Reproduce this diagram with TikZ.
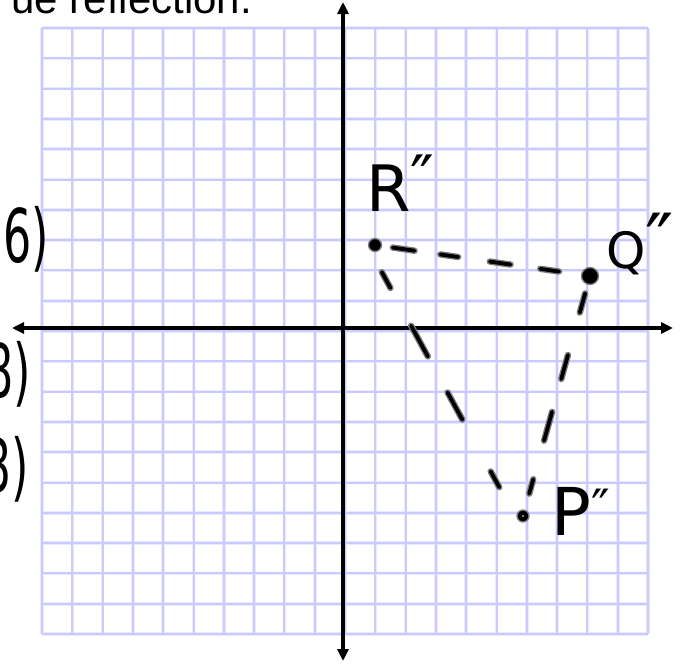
\documentclass[tikz,border=0pt]{standalone}
\usepackage{fontspec}
\setmainfont{Liberation Sans}
\newfontfamily\handfont{DejaVu Sans}
\usetikzlibrary{arrows.meta,calc}
\definecolor{gridc}{RGB}{202,202,255}
\definecolor{gridglow}{RGB}{234,234,255}
\definecolor{haloc}{RGB}{125,125,125}
\tikzset{
  gridline/.style={draw=gridc, line width=2pt},
  gridsoft/.style={draw=gridglow, line width=3.6pt},
  axisline/.style={draw=black, line width=3.2pt, {Triangle[length=12pt,width=11pt]}-{Triangle[length=12pt,width=11pt]}},
  halo/.style={draw=haloc, line width=6.4pt, line cap=round},
  inkcore/.style={draw=black, line width=3.8pt, line cap=round},
  pt/.style={circle, fill=black, draw=haloc, line width=1.3pt, inner sep=0pt, minimum size=#1},
  hand/.style={inner sep=0pt, font=\handfont, text=black},
}
\newcommand\inkpath[2]{\draw[halo,#1] #2; \draw[inkcore,#1] #2;}
\begin{document}
\begin{tikzpicture}[x=1pt,y=-1pt]
\useasboundingbox (0,0) rectangle (689,664);
\clip (0,0) rectangle (689,664);
\fill[white] (0,0) rectangle (689,664);
% graph paper
\foreach \i in {0,...,20}{
  \draw[gridsoft] ({42+30.3*\i},28) -- ({42+30.3*\i},634);
  \draw[gridsoft] (42,{28+30.3*\i}) -- (648,{28+30.3*\i});
}
\foreach \i in {0,...,20}{
  \draw[gridline] ({42+30.3*\i},28) -- ({42+30.3*\i},634);
  \draw[gridline] (42,{28+30.3*\i}) -- (648,{28+30.3*\i});
}
% axes
\coordinate (xl) at (12,328);
\coordinate (xr) at (673,328);
\coordinate (yt) at (343,2);
\coordinate (yb) at (343,661);
\draw[axisline] (xl) -- (xr);
\draw[axisline] (yt) -- (yb);
% points
\node[pt=13pt] (R) at (375,245) {};
\node[pt=17pt] (Q) at (590,276) {};
\node[pt=12pt] (P) at (523,516) {};
% dashed triangle
\inkpath{shorten <=18pt, dash pattern=on 22pt off 26pt on 18pt off 32pt on 21pt off 30pt on 19pt off 300pt}{(R.center) -- (Q.center)}
\inkpath{shorten <=31pt, dash pattern=on 18pt off 43pt on 35pt off 41pt on 31pt off 59pt on 18pt off 300pt}{([xshift=-8pt]R.center) -- ([xshift=-8pt]P.center)}
\inkpath{shorten <=18pt, dash pattern=on 20pt off 44pt on 25pt off 34pt on 30pt off 40pt on 15pt off 300pt}{(Q.center) -- (P.center)}
\fill[white] (P.center) circle (0.9);
% labels
\node[hand, anchor=base west] (Rl) at (366,211) {\fontsize{64}{64}\selectfont R\raisebox{10pt}{″}};
\node[hand, anchor=base west] (Ql) at (606,268) {\fontsize{50}{50}\selectfont Q{\fontsize{76}{76}\selectfont ″}};
\node[hand, anchor=base west] (Pl) at (551,535) {\fontsize{66}{66}\selectfont P{\fontsize{50}{50}\selectfont\raisebox{10pt}{″}}};
% cut-off handwriting at the left edge
\node[hand, anchor=base west] (t1) at (3,262) {\fontsize{74}{74}\selectfont\scalebox{0.6}[1]{6)}};
\node[hand, anchor=base east] (t2) at (31,397) {\fontsize{74}{74}\selectfont\scalebox{0.6}[1]{8)}};
\node[hand, anchor=base east] (t3) at (29,492) {\fontsize{74}{74}\selectfont\scalebox{0.6}[1]{3)}};
% title fragment
\node[anchor=base east, inner sep=0pt, font=\fontsize{42}{42}\selectfont] (title) at (252,13) {ue reflection.};
\end{tikzpicture}
\end{document}
